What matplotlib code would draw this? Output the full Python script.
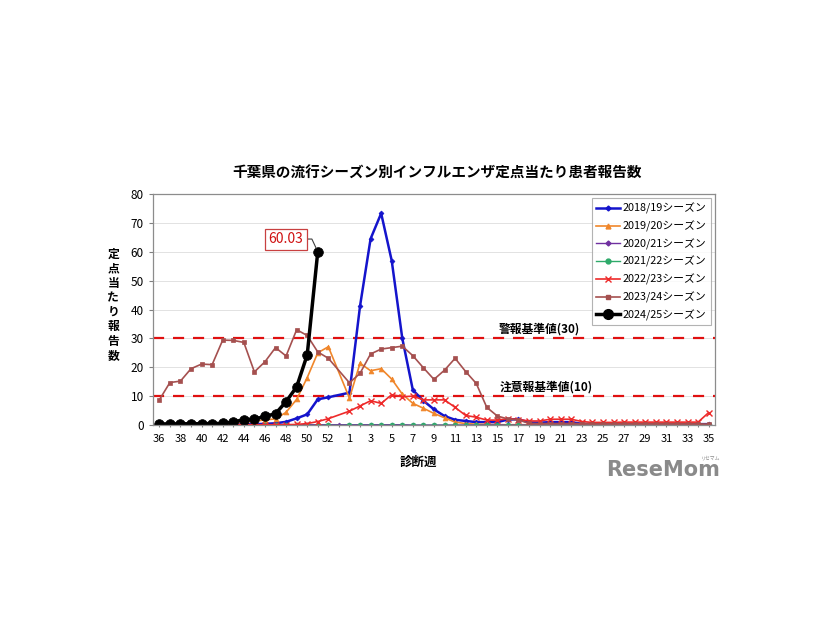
import numpy as np
import matplotlib
matplotlib.use("Agg")
import matplotlib.pyplot as plt
from matplotlib.lines import Line2D

plt.rcParams['font.family'] = ['Noto Sans CJK JP', 'DejaVu Sans']

# season weeks: 36..53, 1..35
weeks = list(range(36, 54)) + list(range(1, 36))
N = None

s2018 = [0.1, 0.1, 0.1, 0.1, 0.1, 0.1, 0.2, 0.2, 0.2, 0.3, 0.4, 0.6, 1.1, 2.3, 3.7, 8.9, 9.6, N,
         11.2, 41.2, 64.5, 73.3, 56.9, 30.0, 12.1, 8.4, 5.4, 3.1, 1.8, 1.4, 1.0, 1.0, 1.0, 1.9, 2.0,
         0.9, 0.8, 1.0, 1.0, 1.0, 0.4, 0.3, 0.3, 0.3, 0.3, 0.3, 0.3, 0.3, 0.3, 0.3, 0.3, 0.3, 0.3]
s2019 = [0.3, 0.3, 0.3, 0.4, 0.4, 0.5, 0.6, 0.8, 1.0, 1.3, 1.8, 2.1, 4.4, 8.9, 16.4, 25.0, 27.1, N,
         9.3, 21.4, 18.8, 19.5, 15.9, 10.7, 7.5, 5.8, 4.0, 2.5, 1.0, 0.5, 0.3, 0.2, 0.1, 0.1, 0.1,
         0.1, 0.1, 0.1, 0.1, 0.1, 0.1, 0.1, 0.1, 0.1, 0.1, 0.1, 0.1, 0.1, 0.1, 0.1, 0.1, 0.1, 0.1]
s2020 = [0.1, 0.1, 0.1, 0.1, 0.1, 0.1, 0.1, 0.1, 0.1, 0.1, 0.1, 0.1, 0.1, 0.1, 0.1, 0.1, 0.1, 0.1,
         0.1, 0.1, 0.1, 0.1, 0.1, 0.1, 0.0, 0.0, 0.0, 0.0, 0.0, 0.0, 0.0, 0.0, 0.0, 0.0, 0.0,
         0.0, 0.0, 0.0, 0.0, 0.0, 0.0, 0.0, 0.0, 0.0, 0.0, 0.0, 0.0, 0.0, 0.0, 0.0, 0.0, 0.0, 0.0]
s2021 = [0.0, 0.0, 0.0, 0.0, 0.0, 0.0, 0.0, 0.0, 0.0, 0.0, 0.0, 0.0, 0.0, 0.0, 0.0, 0.0, 0.0, N,
         0.0, 0.0, 0.0, 0.0, 0.0, 0.0, 0.0, 0.0, 0.0, 0.0, 0.0, 0.0, 0.0, 0.0, 0.0, 0.0, 0.0,
         0.0, 0.0, 0.0, 0.0, 0.0, 0.0, 0.0, 0.0, 0.0, 0.0, 0.0, 0.0, 0.0, 0.0, 0.0, 0.0, 0.0, 0.0]
s2022 = [0.1, 0.1, 0.1, 0.1, 0.1, 0.1, 0.1, 0.1, 0.1, 0.1, 0.1, 0.1, 0.1, 0.2, 0.5, 1.2, 2.2, N,
         4.8, 6.6, 8.4, 7.5, 10.5, 9.8, 10.0, 8.7, 8.7, 8.7, 6.1, 3.3, 2.7, 1.7, 1.7, 2.2, 1.9,
         1.4, 1.4, 2.0, 2.0, 2.0, 1.2, 0.9, 0.9, 0.9, 1.0, 1.0, 1.0, 1.0, 1.0, 1.0, 1.0, 1.0, 4.3]
s2023 = [8.7, 14.7, 15.2, 19.5, 21.1, 20.9, 29.4, 29.3, 28.6, 18.4, 21.9, 26.8, 23.9, 33.0, 31.0, 25.3, 23.1, N,
         14.6, 17.9, 24.6, 26.3, 26.8, 27.3, 24.0, 19.8, 15.8, 19.0, 23.1, 18.5, 14.4, 6.1, 3.1, 2.1, 1.7,
         0.6, 0.5, 0.5, 0.5, 0.5, 0.5, 0.4, 0.4, 0.4, 0.4, 0.4, 0.4, 0.4, 0.4, 0.4, 0.4, 0.4, 0.3]
s2024 = [0.35, 0.4, 0.4, 0.45, 0.45, 0.5, 0.55, 1.0, 1.9, 2.0, 3.0, 3.9, 8.1, 13.2, 24.3, 60.03]

seasons = ['2018/19シーズン', '2019/20シーズン', '2020/21シーズン', '2021/22シーズン',
           '2022/23シーズン', '2023/24シーズン', '2024/25シーズン']
values = [s2018, s2019, s2020, s2021, s2022, s2023, s2024]
colors = ['#1414CC', '#F0862A', '#7030A0', '#2EAA6A', '#EE2A2A', '#A5504F', '#000000']
markers = ['D', '^', 'D', 'o', 'x', 's', 'o']
msizes = [2.5, 3.5, 2.5, 3.5, 5, 3.5, 7]
lwidths = [1.8, 1.2, 1.0, 1.0, 1.2, 1.2, 2.5]

fig = plt.figure(figsize=(8.26, 6.2), dpi=100)
ax = fig.add_axes([0.1852, 0.3145, 0.6804, 0.3726])

handles = []
for lab, vals, c, m, ms, lw in zip(seasons, values, colors, markers, msizes, lwidths):
    xs = [i for i, v in enumerate(vals) if v is not None]
    ys = [v for v in vals if v is not None]
    ax.plot(xs, ys, color=c, marker=m, markersize=ms, linewidth=lw,
            markeredgewidth=1.0 if m == 'x' else 0.5, markeredgecolor=c)
    handles.append(Line2D([], [], color=c, marker=m, markersize=ms, linewidth=lw,
                          markeredgecolor=c, label=lab))

# threshold lines
for lv in (30, 10):
    ax.axhline(lv, color='#E01010', linestyle=(0, (5, 4)), linewidth=1.6, zorder=1)
ax.text(36.0, 31.0, '警報基準値(30)', ha='center', va='bottom', fontsize=8.5, fontweight='bold')
ax.text(36.6, 10.9, '注意報基準値(10)', ha='center', va='bottom', fontsize=8.5, fontweight='bold')

# label of latest value
ax.annotate(f'{s2024[-1]:.2f}', xy=(len(s2024) - 1, s2024[-1]), xytext=(12.0, 64.4),
            ha='center', va='center', fontsize=10, color='#D01010',
            bbox=dict(boxstyle='square,pad=0.25', fc='white', ec='#C84040', lw=0.9),
            arrowprops=dict(arrowstyle='-', color='#404040', lw=0.8, shrinkA=0, shrinkB=3,
                            relpos=(1, 0.5), connectionstyle='angle,angleA=0,angleB=115,rad=0'))

ax.set_xlim(-0.6, len(weeks) - 0.4)
ax.set_ylim(0, 80)
ax.set_yticks(range(0, 81, 10))
ax.set_xticks(range(len(weeks)))
ax.set_xticklabels([str(w) if i % 2 == 0 else '' for i, w in enumerate(weeks)], fontsize=8)
ax.tick_params(axis='x', length=3, direction='inout', color='#808080', pad=5)
ax.tick_params(axis='y', length=3, direction='out', color='#808080', labelsize=8.5)
ax.grid(axis='y', color='#DDDDDD', linewidth=0.6)
ax.set_axisbelow(True)
for sp in ax.spines.values():
    sp.set_color('#8C8C8C')
    sp.set_linewidth(0.9)

leg = ax.legend(handles=handles, loc='upper right', bbox_to_anchor=(0.997, 0.99),
                fontsize=7.8, frameon=True, fancybox=False, edgecolor='#A0A0A0',
                labelspacing=0.6, handlelength=2.2, handletextpad=0.3, borderpad=0.4,
                borderaxespad=0.2)
leg.get_frame().set_linewidth(0.8)

fig.text(0.529, 0.721, '千葉県の流行シーズン別インフルエンザ定点当たり患者報告数',
         ha='center', va='center', fontsize=10.5, fontweight='bold')
fig.text(0.137, 0.508, '\n'.join('定点当たり報告数'), ha='center', va='center',
         fontsize=8.5, fontweight='bold', linespacing=1.15)
fig.text(0.506, 0.255, '診断週', ha='center', va='center', fontsize=9, fontweight='bold')

# watermark
fig.text(0.872, 0.242, 'ReseMom', ha='right', va='center', fontsize=15, fontweight='bold',
         color='#8A8A8A', family=['DejaVu Sans'])
fig.text(0.872, 0.262, 'リセマム', ha='right', va='center', fontsize=3.5, color='#8A8A8A')

fig.savefig('out.png', dpi=100)
